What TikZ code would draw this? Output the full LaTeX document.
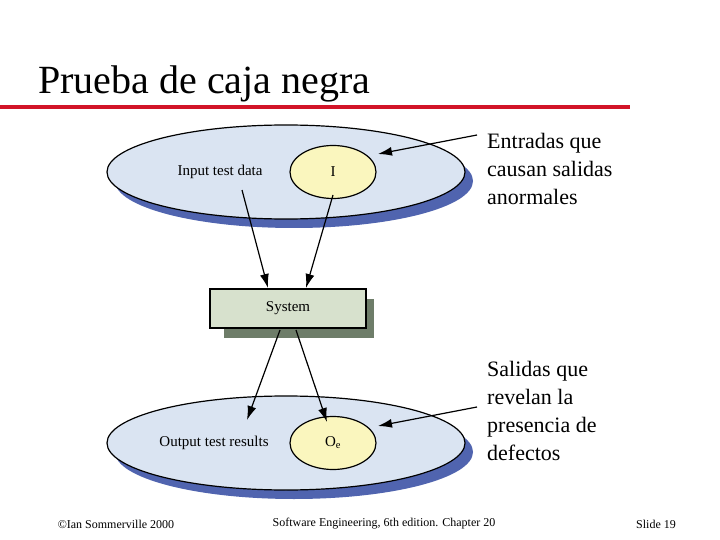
\documentclass[tikz,border=0pt]{standalone}
\usepackage{fontspec}
\setmainfont{Liberation Serif}
\usetikzlibrary{arrows.meta,shapes.geometric}
\definecolor{ellfill}{RGB}{218,228,242}
\definecolor{ellshadow}{RGB}{80,100,175}
\definecolor{yel}{RGB}{250,246,190}
\definecolor{sysfill}{RGB}{215,225,205}
\definecolor{sysshadow}{RGB}{110,125,105}
\definecolor{redline}{RGB}{210,20,40}
\tikzset{
  big/.style={draw=black, line width=1.2pt, fill=ellfill},
  inner/.style={draw=black, line width=1.2pt, fill=yel},
  arr/.style={-{Latex[length=14pt,width=9pt]}, line width=1.2pt},
  lbl/.style={font=\fontsize{15}{17}\selectfont},
  note/.style={font=\fontsize{22}{28}\selectfont, align=left, anchor=north west, inner sep=0pt},
  foot/.style={font=\fontsize{12}{14}\selectfont}
}
\begin{document}
\begin{tikzpicture}[x=1pt,y=-1pt]
\useasboundingbox (0,0) rectangle (720,540);
\node[anchor=base west, inner sep=0, font=\fontsize{40}{44}\selectfont] (title) at (38,94) {Prueba de caja negra};
\fill[redline] (0,105) rectangle (630,109);
% top ellipse
\fill[ellshadow] (294,181) ellipse (179 and 47);
\draw[big] (286,172) ellipse (179 and 47);
\node[inner, ellipse, minimum width=86, minimum height=53, lbl] (I) at (333,172) {I};
\node[lbl] (itd) at (220,172) {Input test data};
% system
\fill[sysshadow] (224,299) rectangle (374,338);
\node[draw=black, line width=1.2pt, fill=sysfill, minimum width=156, minimum height=39, lbl] (sys) at (288,308.5) {System};
% bottom ellipse
\fill[ellshadow] (294,452) ellipse (179 and 47);
\draw[big] (286,443) ellipse (179 and 47);
\node[inner, ellipse, minimum width=86, minimum height=53, lbl] (O) at (333,443) {O\textsubscript{e}};
\node[lbl] (otr) at (214,443) {Output test results};
% arrows
\coordinate (a1) at (242,190);
\coordinate (a2) at (333,195);
\draw[arr] (a1) -- (268,288);
\draw[arr] (a2) -- (306,288);
\coordinate (b1) at (280,330);
\coordinate (b2) at (296,330);
\coordinate (c1) at (247,420);
\coordinate (c2) at (327,422);
\draw[arr] (b1) -- (c1);
\draw[arr] (b2) -- (c2);
\coordinate (t1) at (477,135);
\coordinate (t2) at (477,407);
\draw[arr] (t1) -- (378,154);
\draw[arr] (t2) -- (378,426);
\node[note] (n1) at (487,133) {Entradas que\\causan salidas\\anormales};
\node[note] (n2) at (487,361) {Salidas que\\revelan la\\presencia de\\defectos};
\node[foot] (f1) at (116,524) {©Ian Sommerville 2000};
\node[foot] (f2) at (384,524) {Software Engineering, 6th edition. Chapter 20};
\node[foot] (f3) at (656,524) {Slide 19};
\end{tikzpicture}
\end{document}
